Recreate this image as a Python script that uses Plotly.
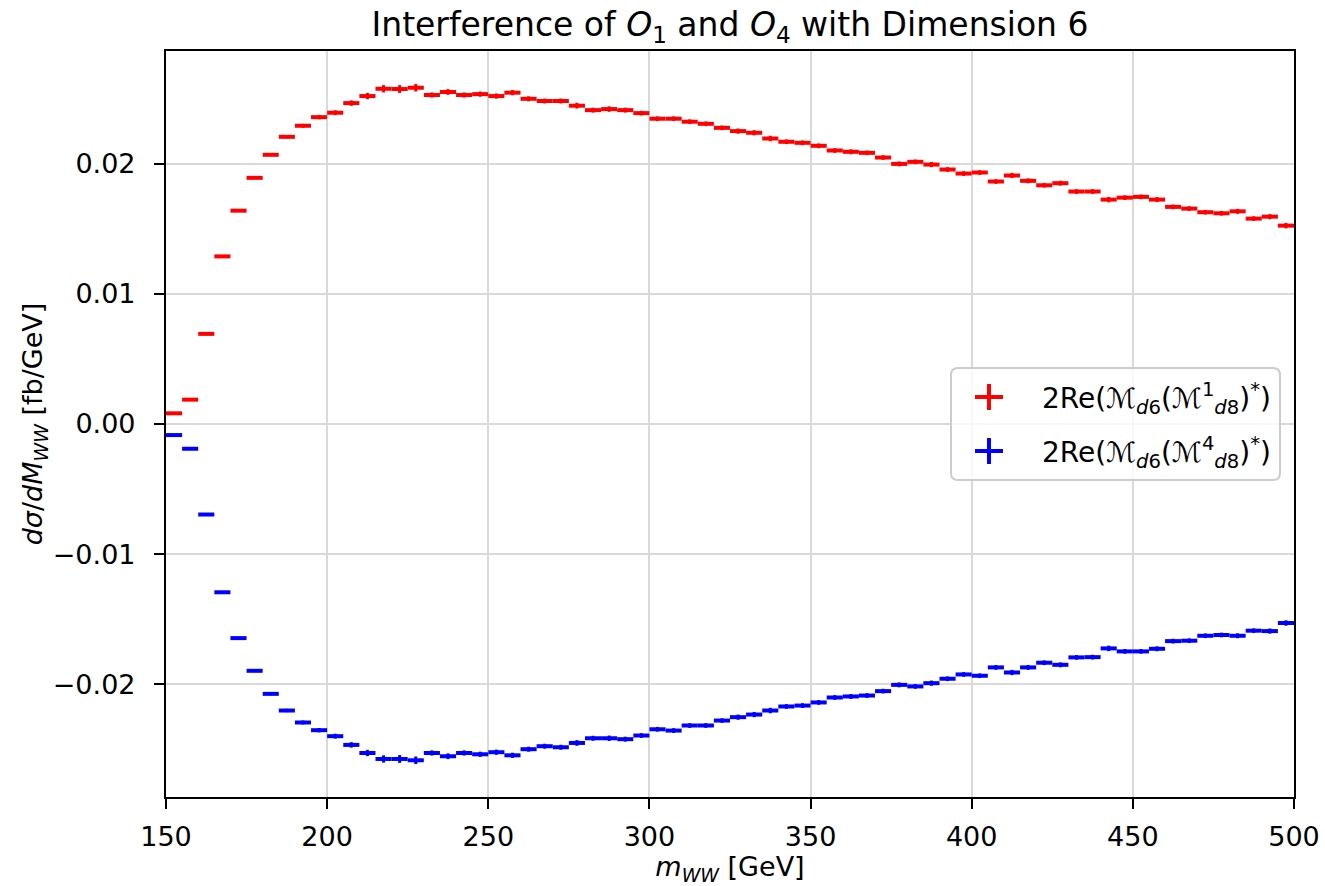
import plotly.graph_objects as go

# Bin edges: 150..500 GeV in steps of 5 GeV
bin_low = list(range(150, 500, 5))
bin_half_width = 2.5
bin_centers = [b + bin_half_width for b in bin_low]

red_vals = [
    0.00082, 0.00187, 0.00692, 0.01287, 0.01638, 0.01890, 0.02067, 0.02205, 0.02290, 0.02356,
    0.02390, 0.02464, 0.02518, 0.02574, 0.02572, 0.02582, 0.02526, 0.02549, 0.02526, 0.02533,
    0.02518, 0.02544, 0.02497, 0.02480, 0.02480, 0.02444, 0.02410, 0.02418, 0.02410, 0.02387,
    0.02344, 0.02344, 0.02321, 0.02305, 0.02274, 0.02249, 0.02236, 0.02192, 0.02167, 0.02159,
    0.02136, 0.02100, 0.02090, 0.02082, 0.02046, 0.01997, 0.02013, 0.01992, 0.01954, 0.01923,
    0.01931, 0.01862, 0.01908, 0.01867, 0.01833, 0.01849, 0.01785, 0.01785, 0.01723, 0.01738,
    0.01744, 0.01723, 0.01667, 0.01654, 0.01626, 0.01618, 0.01633, 0.01577, 0.01592, 0.01523,
]

blue_vals = [
    -0.00085, -0.00190, -0.00695, -0.01292, -0.01644, -0.01895, -0.02072, -0.02200, -0.02292, -0.02351,
    -0.02397, -0.02464, -0.02526, -0.02572, -0.02572, -0.02582, -0.02526, -0.02551, -0.02526, -0.02536,
    -0.02520, -0.02544, -0.02497, -0.02474, -0.02482, -0.02449, -0.02413, -0.02413, -0.02420, -0.02392,
    -0.02344, -0.02354, -0.02315, -0.02315, -0.02277, -0.02251, -0.02231, -0.02200, -0.02169, -0.02162,
    -0.02138, -0.02100, -0.02092, -0.02085, -0.02051, -0.02003, -0.02015, -0.01990, -0.01956, -0.01923,
    -0.01933, -0.01869, -0.01908, -0.01869, -0.01833, -0.01849, -0.01792, -0.01790, -0.01723, -0.01746,
    -0.01746, -0.01726, -0.01667, -0.01664, -0.01626, -0.01620, -0.01626, -0.01587, -0.01590, -0.01528,
]

# statistical uncertainties (small)
red_err = [
    0.00004, 0.00005, 0.00006, 0.00007, 0.00008, 0.00010, 0.00011, 0.00013, 0.00015, 0.00017,
    0.00019, 0.00021, 0.00024, 0.00028, 0.00030, 0.00029, 0.00020, 0.00022, 0.00020, 0.00020,
    0.00020, 0.00020, 0.00019, 0.00019, 0.00019, 0.00022, 0.00019, 0.00021, 0.00019, 0.00018,
    0.00018, 0.00018, 0.00018, 0.00018, 0.00018, 0.00020, 0.00020, 0.00021, 0.00018, 0.00018,
    0.00018, 0.00018, 0.00019, 0.00018, 0.00018, 0.00019, 0.00018, 0.00020, 0.00018, 0.00018,
    0.00018, 0.00018, 0.00020, 0.00019, 0.00018, 0.00019, 0.00018, 0.00018, 0.00021, 0.00018,
    0.00018, 0.00019, 0.00018, 0.00018, 0.00018, 0.00018, 0.00019, 0.00018, 0.00020, 0.00021,
]
blue_err = list(red_err)

series_names = [
    "2Re(ℳ<sub><i>d</i>6</sub>(ℳ<sup>1</sup><sub><i>d</i>8</sub>)<sup>*</sup>)",
    "2Re(ℳ<sub><i>d</i>6</sub>(ℳ<sup>4</sup><sub><i>d</i>8</sub>)<sup>*</sup>)",
]
series_colors = ["#ff0000", "#0000ff"]

y_ticks = [-0.02, -0.01, 0.0, 0.01, 0.02]
y_tick_text = ["\u22120.02", "\u22120.01", "0.00", "0.01", "0.02"]
x_ticks = [150, 200, 250, 300, 350, 400, 450, 500]

FONT = "DejaVu Sans"
fig = go.Figure()

for vals, errs, color, name in zip([red_vals, blue_vals], [red_err, blue_err], series_colors, series_names):
    fig.add_trace(go.Scatter(
        x=bin_centers, y=vals, mode="markers", name=name,
        marker=dict(size=1, color=color, opacity=0),
        error_x=dict(type="constant", value=bin_half_width, color=color, thickness=4, width=0),
        error_y=dict(type="data", array=errs, color=color, thickness=3, width=0),
        showlegend=False, hoverinfo="x+y",
    ))

# ---- manual legend (matplotlib-like), in paper coordinates ----
W, H = 1325, 886
L, R, T, B = 166, 31, 51, 89
PW, PH = W - L - R, H - T - B

def px(x):
    return (x - L) / PW

def py(y):
    return (H - B - y) / PH

bx0, bx1, by0, by1 = 951, 1280, 368, 480
rad = 7
rx, ry = rad / PW, rad / PH
X0, X1, Yt, Yb = px(bx0), px(bx1), py(by0), py(by1)
path = (
    f"M {X0+rx},{Yt} L {X1-rx},{Yt} Q {X1},{Yt} {X1},{Yt-ry} "
    f"L {X1},{Yb+ry} Q {X1},{Yb} {X1-rx},{Yb} "
    f"L {X0+rx},{Yb} Q {X0},{Yb} {X0},{Yb+ry} "
    f"L {X0},{Yt-ry} Q {X0},{Yt} {X0+rx},{Yt} Z"
)
shapes = [dict(type="path", path=path, xref="paper", yref="paper",
               fillcolor="rgba(255,255,255,0.8)", line=dict(color="#cccccc", width=2), layer="above")]
annotations = []
row_y = [397, 451]
for ry_px, color, name in zip(row_y, series_colors, series_names):
    cx, cy = 989, ry_px
    shapes.append(dict(type="line", xref="paper", yref="paper",
                       x0=px(cx - 14), x1=px(cx + 14), y0=py(cy), y1=py(cy),
                       line=dict(color=color, width=4), layer="above"))
    shapes.append(dict(type="line", xref="paper", yref="paper",
                       x0=px(cx), x1=px(cx), y0=py(cy - 13), y1=py(cy + 13),
                       line=dict(color=color, width=4), layer="above"))
    annotations.append(dict(text=name, xref="paper", yref="paper", x=px(1040), y=py(cy + 1),
                            xanchor="left", yanchor="middle", showarrow=False,
                            font=dict(family=FONT, size=28, color="black")))

axis_common = dict(
    showline=True, linecolor="black", linewidth=2.2, mirror=True,
    ticks="outside", ticklen=10, tickwidth=2.2, tickcolor="black",
    showgrid=True, gridcolor="#d9d9d9", gridwidth=2, automargin=False,
    zeroline=False, tickfont=dict(family=FONT, size=27, color="black"),
)

fig.update_layout(
    width=W, height=H,
    margin=dict(l=L, r=R, t=T, b=B, autoexpand=False),
    paper_bgcolor="white", plot_bgcolor="white",
    font=dict(family=FONT, size=27, color="black"),
    showlegend=False,
    title=dict(
        text="Interference of <i>O</i><sub>1</sub> and <i>O</i><sub>4</sub> with Dimension 6",
        x=0.5, xref="paper", xanchor="center",
        y=0.972, yref="container", yanchor="middle",
        font=dict(family=FONT, size=33, color="black"),
    ),
    xaxis=dict(
        range=[150, 500], tickvals=x_ticks, ticklabelstandoff=4,
        title=dict(text="<i>m</i><sub><i>WW</i></sub> [GeV]", font=dict(family=FONT, size=27), standoff=9),
        **axis_common,
    ),
    yaxis=dict(
        range=[-0.02864, 0.02864], tickvals=y_ticks, ticktext=y_tick_text, ticklabelstandoff=13,
        title=dict(text="<i>dσ</i>/<i>dM</i><sub><i>WW</i></sub> [fb/GeV]", font=dict(family=FONT, size=27), standoff=2),
        **axis_common,
    ),
    shapes=shapes,
    annotations=annotations,
)

fig.write_html(
    "out.html",
    config={"displayModeBar": False},
    post_script="document.body.style.margin='0';document.documentElement.style.overflow='hidden';document.body.style.overflow='hidden';",
)
